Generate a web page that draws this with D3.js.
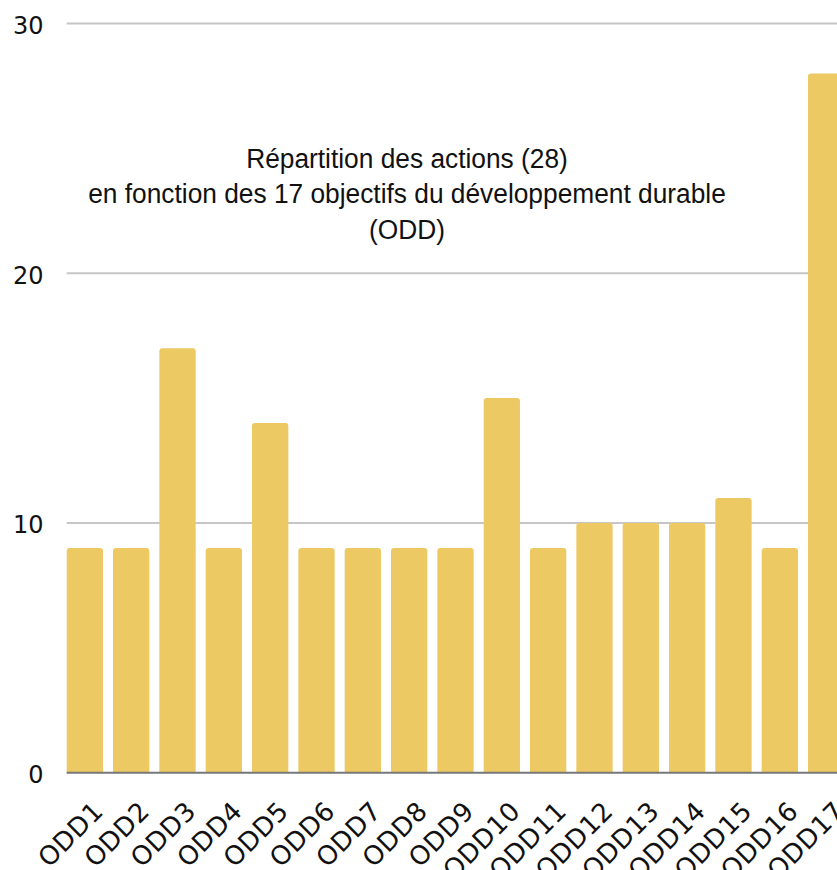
<!DOCTYPE html>
<html>
<head>
<meta charset="utf-8">
<script src="https://cdn.jsdelivr.net/npm/d3@7"></script>
<style>
  html, body { margin: 0; padding: 0; background: #fff; overflow: hidden; }
</style>
</head>
<body>
<div id="chart"></div>
<script>
// Data
var categories = ['ODD1', 'ODD2', 'ODD3', 'ODD4', 'ODD5', 'ODD6', 'ODD7', 'ODD8', 'ODD9',
                  'ODD10', 'ODD11', 'ODD12', 'ODD13', 'ODD14', 'ODD15', 'ODD16', 'ODD17'];
var actions = [9, 9, 17, 9, 14, 9, 9, 9, 9, 15, 9, 10, 10, 10, 11, 9, 28];
var yTicks = [0, 10, 20, 30];
var titleLines = ['Répartition des actions (28)',
                  'en fonction des 17 objectifs du développement durable',
                  '(ODD)'];

var width = 837;
var height = 870;
var tickFont = '"DejaVu Sans", sans-serif';
var titleFont = '"Liberation Sans", Arial, sans-serif';

var svg = d3.select('#chart')
            .append('svg')
            .attr('width', width)
            .attr('height', height);

// Scales
var x = d3.scaleBand()
          .domain(categories)
          .range([66.7, 844.3])
          .paddingInner(0.2165)
          .paddingOuter(0);
var y = d3.scaleLinear()
          .domain([0, 30])
          .range([772.7, 23.5]);

// Gridlines
svg.append('g')
   .attr('class', 'grid')
   .selectAll('line')
   .data(yTicks.filter(function (d) { return d > 0; }))
   .enter()
   .append('line')
   .attr('x1', 66.7)
   .attr('x2', width)
   .attr('y1', function (d) { return y(d); })
   .attr('y2', function (d) { return y(d); })
   .attr('stroke', '#c6c6c6')
   .attr('stroke-width', 2);

// Y tick labels
svg.append('g')
   .attr('class', 'y-labels')
   .selectAll('text')
   .data(yTicks)
   .enter()
   .append('text')
   .attr('x', 43.5)
   .attr('y', function (d) { return y(d) + 2.5; })
   .attr('text-anchor', 'end')
   .attr('dominant-baseline', 'central')
   .attr('font-family', tickFont)
   .attr('font-size', 24)
   .attr('fill', '#111')
   .text(function (d) { return d; });

// Bars (rounded top corners)
var r = 3;
svg.append('g')
   .attr('class', 'bars')
   .selectAll('path')
   .data(actions)
   .enter()
   .append('path')
   .attr('fill', '#edc963')
   .attr('d', function (d, i) {
     var x0 = x(categories[i]);
     var w = x.bandwidth();
     var top = y(d);
     var bottom = y(0);
     return 'M' + x0 + ',' + bottom +
            'V' + (top + r) +
            'Q' + x0 + ',' + top + ' ' + (x0 + r) + ',' + top +
            'H' + (x0 + w - r) +
            'Q' + (x0 + w) + ',' + top + ' ' + (x0 + w) + ',' + (top + r) +
            'V' + bottom + 'Z';
   });

// Baseline
svg.append('line')
   .attr('x1', 66.7)
   .attr('x2', width)
   .attr('y1', y(0))
   .attr('y2', y(0))
   .attr('stroke', '#777')
   .attr('stroke-width', 2);

// X labels, rotated
svg.append('g')
   .attr('class', 'x-labels')
   .selectAll('text')
   .data(categories)
   .enter()
   .append('text')
   .attr('transform', function (d) {
     return 'translate(' + (x(d) + x.bandwidth() / 2 + 20) + ',' + (y(0) + 40) + ') rotate(-45)';
   })
   .attr('text-anchor', 'end')
   .attr('font-family', tickFont)
   .attr('font-size', 26)
   .attr('letter-spacing', 0.5)
   .attr('fill', '#111')
   .text(function (d) { return d; });

// Title (glyphs slightly condensed, as in the reference)
svg.append('g')
   .attr('class', 'title')
   .attr('transform', 'translate(407,0) scale(0.94,1)')
   .selectAll('text')
   .data(titleLines)
   .enter()
   .append('text')
   .attr('x', 0)
   .attr('y', function (d, i) { return 168 + i * 35.5; })
   .attr('text-anchor', 'middle')
   .attr('font-family', titleFont)
   .attr('font-size', 28)
   .attr('fill', '#111')
   .text(function (d) { return d; });
</script>
</body>
</html>
